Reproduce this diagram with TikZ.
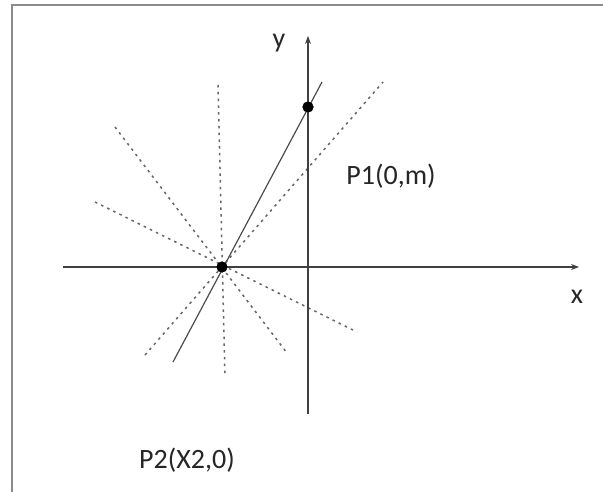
\documentclass[tikz,border=0pt]{standalone}
\usepackage{fontspec}
\setmainfont{Carlito}
\usetikzlibrary{arrows.meta}
\begin{document}
\begin{tikzpicture}[x=1pt,y=-1pt,
  frameline/.style={draw=black!45,line width=1.6pt},
  axisline/.style={draw=black!75,line width=1.2pt},
  solidline/.style={draw=black!70,line width=1.2pt},
  dotline/.style={draw=black!60,line width=1.5pt,dash pattern=on 2.5pt off 4.3pt},
  ptdot/.style={circle,fill=black,inner sep=0pt,minimum size=11pt},
  lbl/.style={inner sep=0pt,font=\fontsize{28}{31}\selectfont,text=black!85}]
\useasboundingbox (0,0) rectangle (603,492);
\fill[white] (0,0) rectangle (603,492);
% frame
\coordinate (f1) at (603,5);
\coordinate (f2) at (12,5);
\coordinate (f3) at (12,492);
\draw[frameline] (f1) -- (f2) -- (f3);
% points
\node[ptdot] (p2) at (222,267) {};
\node[ptdot] (p1) at (308,107) {};
% dotted lines through P2
\coordinate (d1a) at (218,85);  \coordinate (d1b) at (225,377);
\coordinate (d2a) at (115,127); \coordinate (d2b) at (287,353);
\coordinate (d3a) at (95,202);  \coordinate (d3b) at (357,332);
\coordinate (d4a) at (145,355); \coordinate (d4b) at (383,82);
\draw[dotline] (d1a) -- (d1b);
\draw[dotline] (d2a) -- (d2b);
\draw[dotline] (d3a) -- (d3b);
\draw[dotline] (d4a) -- (d4b);
% axes
\coordinate (xs) at (63,267);  \coordinate (xe) at (579,267);
\coordinate (ys) at (308,414); \coordinate (ye) at (308,36);
\draw[axisline,-{Stealth[length=8pt,width=6pt]}] (xs) -- (xe);
\draw[axisline,-{Stealth[length=8pt,width=6pt]}] (ys) -- (ye);
% solid line through P2 and P1
\coordinate (sa) at (173,362); \coordinate (sb) at (322,82);
\draw[solidline] (sa) -- (sb);
\node[ptdot] at (p2) {};
\node[ptdot] at (p1) {};
% labels
\node[lbl] (ly) at (279,43) {y};
\node[lbl] (lx) at (577,297) {x};
\node[lbl] (lp1) at (391,176) {P1(0,m)};
\node[lbl] (lp2) at (187,460) {P2(X2,0)};
\end{tikzpicture}
\end{document}
